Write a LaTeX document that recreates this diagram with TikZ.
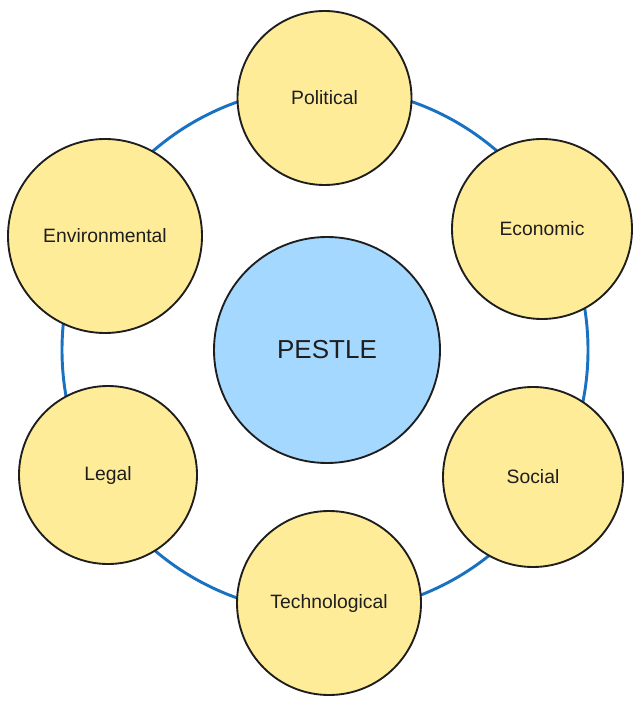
\documentclass[tikz,border=0pt]{standalone}
\usepackage{fontspec}
\setmainfont{Liberation Sans}
\definecolor{ringblue}{HTML}{1971C2}
\definecolor{factor}{HTML}{FFEC99}
\definecolor{core}{HTML}{A5D8FF}
\definecolor{ink}{HTML}{1E1E1E}
\begin{document}
\begin{tikzpicture}[x=0.75pt,y=-0.75pt,
  factorbox/.style={circle,draw=ink,fill=factor,line width=1.4pt,inner sep=0pt,
    font=\fontsize{14.5}{16}\selectfont,text=ink},
  corebox/.style={circle,draw=ink,fill=core,line width=1.4pt,inner sep=0pt,
    font=\fontsize{19.5}{22}\selectfont,text=ink},
  ring/.style={draw=ringblue,line width=2.2pt}]
\useasboundingbox (0,0) rectangle (640,705);
\fill[white] (0,0) rectangle (640,705);
\coordinate (hub) at (325,350);
\draw[ring] (hub) circle[radius=263];
\node[factorbox,minimum size=130.5pt] (pol) at (324.5,98) {Political};
\node[factorbox,minimum size=135pt] (eco) at (542,229) {Economic};
\node[factorbox,minimum size=135pt] (soc) at (533,477) {Social};
\node[factorbox,minimum size=138pt] (tec) at (329,603) {Technological};
\node[factorbox,minimum size=133.5pt] (leg) at (108,475) {Legal};
\node[factorbox,minimum size=145.5pt] (env) at (105,236) {Environmental};
\node[corebox,minimum size=169.5pt] (pes) at (327,350) {PESTLE};
\end{tikzpicture}
\end{document}
